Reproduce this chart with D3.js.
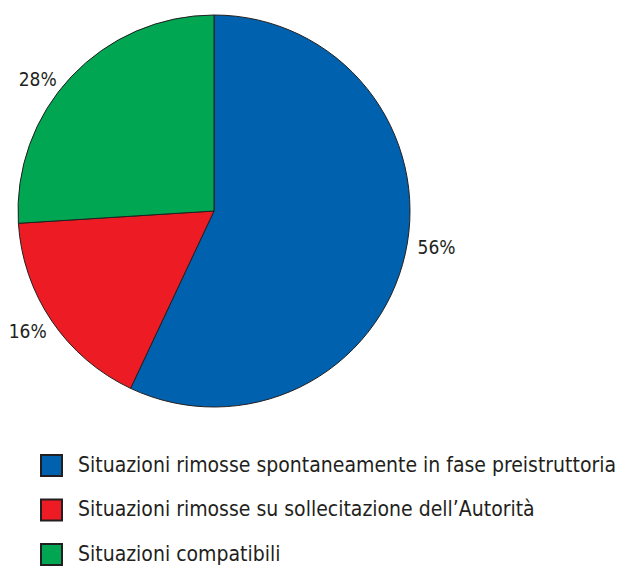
<!DOCTYPE html>
<html>
<head>
<meta charset="utf-8">
<script src="https://cdn.jsdelivr.net/npm/d3@7"></script>
<style>
  body { margin: 0; background: #fff; }
  text { font-family: "DejaVu Sans Condensed", "DejaVu Sans", sans-serif; fill: #231f20; }
</style>
</head>
<body>
<div id="chart"></div>
<script>
// slice sizes as drawn (angles), printed labels as shown
const categories = [
  'Situazioni rimosse spontaneamente in fase preistruttoria',
  'Situazioni rimosse su sollecitazione dell\u2019Autorità',
  'Situazioni compatibili',
];
const values = [57, 17, 26];
const pctLabels = ['56%', '16%', '28%'];
const colors = ['#0061ae', '#ed1c24', '#00a651'];

const width = 624;
const height = 568;
const cx = 214;
const cy = 211;
const radius = 196;

// small nudges so the labels sit where the original placed them
const labelNudge = [[4, -13], [-1, -6], [-13, 21]];

const svg = d3.select('#chart').append('svg')
  .attr('width', width)
  .attr('height', height);

const pie = d3.pie().sort(null).value(d => d);
const arcs = pie(values);

const arc = d3.arc().innerRadius(0).outerRadius(radius);
const labelArc = d3.arc().innerRadius(224).outerRadius(224);

const g = svg.append('g')
  .attr('transform', `translate(${cx}, ${cy})`);

g.selectAll('.slice')
  .data(arcs)
  .enter()
  .append('path')
  .attr('class', 'slice')
  .attr('d', arc)
  .attr('fill', (d, i) => colors[i])
  .attr('stroke', '#231f20')
  .attr('stroke-width', 1);

g.selectAll('.pct')
  .data(arcs)
  .enter()
  .append('text')
  .attr('class', 'pct')
  .attr('transform', (d, i) => {
    const c = labelArc.centroid(d);
    return `translate(${c[0] + labelNudge[i][0]}, ${c[1] + labelNudge[i][1]})`;
  })
  .attr('text-anchor', 'middle')
  .attr('dy', '0.37em')
  .style('font-size', '19px')
  .text((d, i) => pctLabels[i]);

// legend
const legend = svg.append('g')
  .attr('transform', 'translate(41, 455)');

const rows = legend.selectAll('.row')
  .data(categories)
  .enter()
  .append('g')
  .attr('class', 'row')
  .attr('transform', (d, i) => `translate(0, ${i * 44.5})`);

rows.append('rect')
  .attr('width', 21)
  .attr('height', 21)
  .attr('fill', (d, i) => colors[i])
  .attr('stroke', '#231f20')
  .attr('stroke-width', 2);

rows.append('text')
  .attr('x', 37)
  .attr('y', 16.7)
  .style('font-size', '21px')
  .text(d => d);
</script>
</body>
</html>
